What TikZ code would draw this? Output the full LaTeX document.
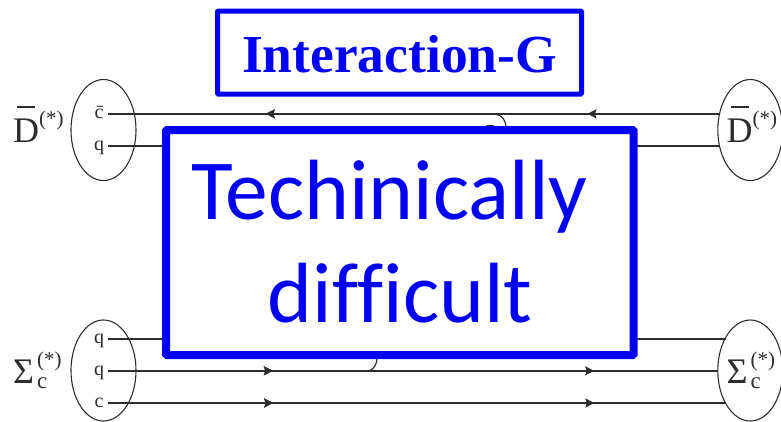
\documentclass[tikz,border=0pt]{standalone}
\usepackage{fontspec}
\usepackage{amsmath}
\usepackage{xcolor}
\usetikzlibrary{shapes.geometric,decorations.markings,arrows.meta}
\setmainfont{Liberation Serif}
\newfontfamily\boxFont[Ligatures=NoCommon]{Carlito}
\definecolor{boxBlue}{RGB}{0,0,245}
\definecolor{inkGray}{RGB}{45,45,45}
\newcommand{\starMark}{\raisebox{17pt}{\fontsize{21}{21}\selectfont(*)}}
\newcommand{\mesonLabel}{\makebox[0pt][l]{\hspace{0.11em}\rule[0.95em]{0.5em}{0.05em}}D\starMark}
\newcommand{\baryonLabel}{Σ\hspace{3pt}\makebox[0pt][l]{\raisebox{-5pt}{\fontsize{23}{23}\selectfont c}}\starMark}
\tikzset{
  hadron/.style={draw=inkGray, line width=1.1pt, ellipse, minimum width=65, minimum height=101, inner sep=0pt},
  quark/.style={text=inkGray, font={\fontsize{20}{20}\selectfont}, inner sep=0pt, minimum width=18, text height=14, text depth=5},
  hadronText/.style={text=inkGray, font={\fontsize{36}{36}\selectfont}, inner sep=0pt},
  quarkLine/.style={draw=inkGray, line width=1.6pt},
  arrowLeft/.style={quarkLine, postaction={decorate}, decoration={markings,
    mark=at position #1 with {\arrow{Stealth[length=9pt,width=9pt,inset=1.5pt,reversed]}}}},
  arrowRight/.style={quarkLine, postaction={decorate}, decoration={markings,
    mark=at position #1 with {\arrow{Stealth[length=9pt,width=9pt,inset=1.5pt]}}}},
  blueBox/.style={draw=boxBlue, fill=white, rounded corners=1pt},
}
\begin{document}
\begin{tikzpicture}[x=1pt,y=-1pt]
\useasboundingbox (0,0) rectangle (781,421);
\node[hadron] (topLeft) at (103.5,130) {};
\node[hadron] (topRight) at (750.3,130) {};
\node[hadron] (botLeft) at (103.5,370.5) {};
\node[hadron] (botRight) at (750.3,370.5) {};
\node[hadronText, anchor=base west] (mesonLeft) at (13,142) {\mesonLabel};
\node[hadronText, anchor=base west] (mesonRight) at (726.5,142) {\mesonLabel};
\node[hadronText, anchor=base west] (baryonLeft) at (13,383) {\baryonLabel};
\node[hadronText, anchor=base west] (baryonRight) at (726.5,383) {\baryonLabel};
\node[quark] (cBarLeft) at (99,113.8) {\=c};
\node[quark] (qTopLeft) at (99,145.8) {q};
\node[quark] (qOneLeft) at (99,338.8) {q};
\node[quark] (qTwoLeft) at (99,370.8) {q};
\node[quark] (cLeft) at (99,403) {c};
\coordinate (cBarRight) at (718.5,113.8);
\coordinate (qTopRight) at (718.5,145.8);
\coordinate (qOneRight) at (726,338.8);
\coordinate (qTwoRight) at (718,370.8);
\coordinate (cRight) at (726,403);
\draw[arrowLeft={0.273}, postaction={decorate, decoration={markings,
  mark=at position 0.8 with {\arrow{Stealth[length=9pt,width=9pt,inset=1.5pt,reversed]}}}}] (cBarLeft.east) -- (cBarRight);
\draw[quarkLine] (qTopLeft.east) -- (qTopRight);
\draw[quarkLine] (qOneLeft.east) -- (qOneRight);
\draw[arrowRight={0.27}, postaction={decorate, decoration={markings,
  mark=at position 0.797 with {\arrow{Stealth[length=9pt,width=9pt,inset=1.5pt]}}}}] (qTwoLeft.east) -- (qTwoRight);
\draw[arrowRight={0.267}, postaction={decorate, decoration={markings,
  mark=at position 0.787 with {\arrow{Stealth[length=9pt,width=9pt,inset=1.5pt]}}}}] (cLeft.east) -- (cRight);
\draw[draw=inkGray, line width=1.2pt] (495,114) .. controls (502,115) and (506,120) .. (506,128);
\draw[draw=inkGray, line width=1.2pt] (484,127) .. controls (488,125) and (492,125) .. (496,127);
\draw[draw=inkGray, line width=1.2pt] (377,358) .. controls (377,364) and (374,369) .. (369,371);
\node[blueBox, line width=5pt, minimum width=364, minimum height=83] (titleBox) at (399.5,52.5) {};
\node[blueBox, line width=8pt, minimum width=467.5, minimum height=225] (mainBox) at (399.8,242.5) {};
\node[text=boxBlue, font={\fontsize{53.5}{53.5}\selectfont\bfseries}, anchor=base] (titleText) at (399.5,72) {Interaction-G};
\node[text=boxBlue, font={\boxFont\fontsize{85.5}{85.5}\selectfont}, anchor=base] (lineOne) at (389.5,219) {Techinically};
\node[text=boxBlue, font={\boxFont\fontsize{85.5}{85.5}\selectfont}, anchor=base] (lineTwo) at (400,322) {difficult};
\end{tikzpicture}
\end{document}
